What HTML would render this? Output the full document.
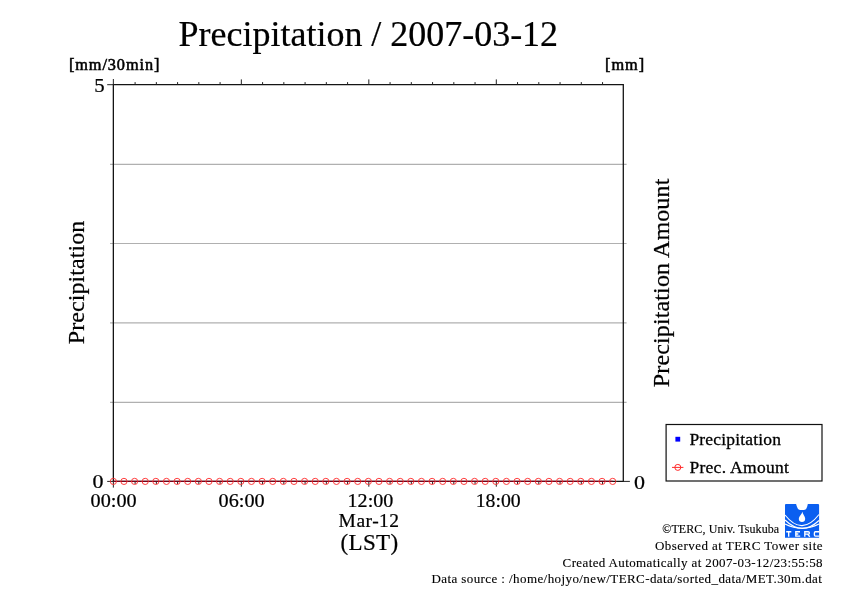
<!DOCTYPE html>
<html><head><meta charset="utf-8">
<style>
html,body{margin:0;padding:0;background:#fff;width:842px;height:595px;overflow:hidden}
svg{display:block;will-change:transform}
text{font-family:"Liberation Serif",serif;fill:#000}
</style></head>
<body>
<svg width="842" height="595" viewBox="0 0 842 595">
<rect x="0" y="0" width="842" height="595" fill="#fff"/>
<text x="178.6" y="45.7" font-size="36" textLength="379.5" lengthAdjust="spacing" stroke="#000" stroke-width="0.22">Precipitation / 2007-03-12</text>
<text x="68.9" y="70.3" font-size="16.3" textLength="90.5" lengthAdjust="spacing" stroke="#000" stroke-width="0.55">[mm/30min]</text>
<text x="605.0" y="70.2" font-size="16.3" textLength="39.2" lengthAdjust="spacing" stroke="#000" stroke-width="0.55">[mm]</text>
<g stroke="#b0b0b0" stroke-width="1.15"><line x1="110.05" y1="164.30" x2="626.5999999999999" y2="164.30"/><line x1="110.05" y1="243.50" x2="626.5999999999999" y2="243.50"/><line x1="110.05" y1="322.80" x2="626.5999999999999" y2="322.80"/><line x1="110.05" y1="402.30" x2="626.5999999999999" y2="402.30"/></g>
<path d="M113.35 84.7 H623.3 V481.4 H113.35 Z" fill="none" stroke="#141414" stroke-width="1.3"/>
<g stroke="#222" stroke-width="1"><line x1="107.2" y1="84.7" x2="113.35" y2="84.7"/><line x1="107.2" y1="481.4" x2="113.35" y2="481.4"/><line x1="623.3" y1="481.4" x2="629.9" y2="481.4"/><line x1="113.35" y1="79" x2="113.35" y2="84.7"/><line x1="113.35" y1="481.4" x2="113.35" y2="487.6"/><line x1="135.10" y1="84.7" x2="135.10" y2="82.10000000000001"/><line x1="135.10" y1="481.4" x2="135.10" y2="484.0"/><line x1="156.35" y1="84.7" x2="156.35" y2="82.10000000000001"/><line x1="156.35" y1="481.4" x2="156.35" y2="484.0"/><line x1="177.59" y1="84.7" x2="177.59" y2="82.10000000000001"/><line x1="177.59" y1="481.4" x2="177.59" y2="484.0"/><line x1="198.84" y1="84.7" x2="198.84" y2="82.10000000000001"/><line x1="198.84" y1="481.4" x2="198.84" y2="484.0"/><line x1="220.09" y1="84.7" x2="220.09" y2="82.10000000000001"/><line x1="220.09" y1="481.4" x2="220.09" y2="484.0"/><line x1="241.34" y1="84.7" x2="241.34" y2="79.4"/><line x1="241.34" y1="481.4" x2="241.34" y2="486.7"/><line x1="262.59" y1="84.7" x2="262.59" y2="82.10000000000001"/><line x1="262.59" y1="481.4" x2="262.59" y2="484.0"/><line x1="283.83" y1="84.7" x2="283.83" y2="82.10000000000001"/><line x1="283.83" y1="481.4" x2="283.83" y2="484.0"/><line x1="305.08" y1="84.7" x2="305.08" y2="82.10000000000001"/><line x1="305.08" y1="481.4" x2="305.08" y2="484.0"/><line x1="326.33" y1="84.7" x2="326.33" y2="82.10000000000001"/><line x1="326.33" y1="481.4" x2="326.33" y2="484.0"/><line x1="347.58" y1="84.7" x2="347.58" y2="82.10000000000001"/><line x1="347.58" y1="481.4" x2="347.58" y2="484.0"/><line x1="368.82" y1="84.7" x2="368.82" y2="79.4"/><line x1="368.82" y1="481.4" x2="368.82" y2="486.7"/><line x1="390.07" y1="84.7" x2="390.07" y2="82.10000000000001"/><line x1="390.07" y1="481.4" x2="390.07" y2="484.0"/><line x1="411.32" y1="84.7" x2="411.32" y2="82.10000000000001"/><line x1="411.32" y1="481.4" x2="411.32" y2="484.0"/><line x1="432.57" y1="84.7" x2="432.57" y2="82.10000000000001"/><line x1="432.57" y1="481.4" x2="432.57" y2="484.0"/><line x1="453.82" y1="84.7" x2="453.82" y2="82.10000000000001"/><line x1="453.82" y1="481.4" x2="453.82" y2="484.0"/><line x1="475.06" y1="84.7" x2="475.06" y2="82.10000000000001"/><line x1="475.06" y1="481.4" x2="475.06" y2="484.0"/><line x1="496.31" y1="84.7" x2="496.31" y2="79.4"/><line x1="496.31" y1="481.4" x2="496.31" y2="486.7"/><line x1="517.56" y1="84.7" x2="517.56" y2="82.10000000000001"/><line x1="517.56" y1="481.4" x2="517.56" y2="484.0"/><line x1="538.81" y1="84.7" x2="538.81" y2="82.10000000000001"/><line x1="538.81" y1="481.4" x2="538.81" y2="484.0"/><line x1="560.06" y1="84.7" x2="560.06" y2="82.10000000000001"/><line x1="560.06" y1="481.4" x2="560.06" y2="484.0"/><line x1="581.30" y1="84.7" x2="581.30" y2="82.10000000000001"/><line x1="581.30" y1="481.4" x2="581.30" y2="484.0"/><line x1="602.55" y1="84.7" x2="602.55" y2="82.10000000000001"/><line x1="602.55" y1="481.4" x2="602.55" y2="484.0"/></g>
<line x1="113.35" y1="481.4" x2="612.68" y2="481.4" stroke="#780018" stroke-width="1.3"/>
<g stroke="#ff3535" stroke-width="0.95" fill="none"><circle cx="113.35" cy="481.4" r="3.1"/><circle cx="123.97" cy="481.4" r="3.1"/><circle cx="134.60" cy="481.4" r="3.1"/><circle cx="145.22" cy="481.4" r="3.1"/><circle cx="155.85" cy="481.4" r="3.1"/><circle cx="166.47" cy="481.4" r="3.1"/><circle cx="177.09" cy="481.4" r="3.1"/><circle cx="187.72" cy="481.4" r="3.1"/><circle cx="198.34" cy="481.4" r="3.1"/><circle cx="208.97" cy="481.4" r="3.1"/><circle cx="219.59" cy="481.4" r="3.1"/><circle cx="230.21" cy="481.4" r="3.1"/><circle cx="240.84" cy="481.4" r="3.1"/><circle cx="251.46" cy="481.4" r="3.1"/><circle cx="262.09" cy="481.4" r="3.1"/><circle cx="272.71" cy="481.4" r="3.1"/><circle cx="283.33" cy="481.4" r="3.1"/><circle cx="293.96" cy="481.4" r="3.1"/><circle cx="304.58" cy="481.4" r="3.1"/><circle cx="315.21" cy="481.4" r="3.1"/><circle cx="325.83" cy="481.4" r="3.1"/><circle cx="336.45" cy="481.4" r="3.1"/><circle cx="347.08" cy="481.4" r="3.1"/><circle cx="357.70" cy="481.4" r="3.1"/><circle cx="368.32" cy="481.4" r="3.1"/><circle cx="378.95" cy="481.4" r="3.1"/><circle cx="389.57" cy="481.4" r="3.1"/><circle cx="400.20" cy="481.4" r="3.1"/><circle cx="410.82" cy="481.4" r="3.1"/><circle cx="421.44" cy="481.4" r="3.1"/><circle cx="432.07" cy="481.4" r="3.1"/><circle cx="442.69" cy="481.4" r="3.1"/><circle cx="453.32" cy="481.4" r="3.1"/><circle cx="463.94" cy="481.4" r="3.1"/><circle cx="474.56" cy="481.4" r="3.1"/><circle cx="485.19" cy="481.4" r="3.1"/><circle cx="495.81" cy="481.4" r="3.1"/><circle cx="506.44" cy="481.4" r="3.1"/><circle cx="517.06" cy="481.4" r="3.1"/><circle cx="527.68" cy="481.4" r="3.1"/><circle cx="538.31" cy="481.4" r="3.1"/><circle cx="548.93" cy="481.4" r="3.1"/><circle cx="559.56" cy="481.4" r="3.1"/><circle cx="570.18" cy="481.4" r="3.1"/><circle cx="580.80" cy="481.4" r="3.1"/><circle cx="591.43" cy="481.4" r="3.1"/><circle cx="602.05" cy="481.4" r="3.1"/><circle cx="612.68" cy="481.4" r="3.1"/></g>
<text x="94.3" y="91.6" font-size="19.5" textLength="10.4" lengthAdjust="spacingAndGlyphs" stroke="#000" stroke-width="0.22">5</text>
<text x="92.5" y="487.8" font-size="19.3" textLength="11.0" lengthAdjust="spacingAndGlyphs" stroke="#000" stroke-width="0.22">0</text>
<text x="634.0" y="488.6" font-size="19.3" textLength="11.0" lengthAdjust="spacingAndGlyphs" stroke="#000" stroke-width="0.22">0</text>
<text x="90.6" y="506.8" font-size="19.3" textLength="46.0" lengthAdjust="spacingAndGlyphs" stroke="#000" stroke-width="0.22">00:00</text>
<text x="218.6" y="506.8" font-size="19.3" textLength="46.0" lengthAdjust="spacingAndGlyphs" stroke="#000" stroke-width="0.22">06:00</text>
<text x="347.6" y="506.8" font-size="19.3" textLength="45.7" lengthAdjust="spacingAndGlyphs" stroke="#000" stroke-width="0.22">12:00</text>
<text x="475.7" y="506.8" font-size="19.3" textLength="45.0" lengthAdjust="spacingAndGlyphs" stroke="#000" stroke-width="0.22">18:00</text>
<text x="338.6" y="526.6" font-size="19.5" textLength="60.5" lengthAdjust="spacing" stroke="#000" stroke-width="0.22">Mar-12</text>
<text x="340.6" y="550.4" font-size="23" textLength="57.5" lengthAdjust="spacing" stroke="#000" stroke-width="0.22">(LST)</text>
<text transform="translate(83.8,344.2) rotate(-90)" font-size="24" textLength="123.5" lengthAdjust="spacing" stroke="#000" stroke-width="0.22">Precipitation</text>
<text transform="translate(669.4,387.2) rotate(-90)" font-size="24" textLength="208.5" lengthAdjust="spacing" stroke="#000" stroke-width="0.22">Precipitation Amount</text>
<rect x="666.1" y="424.5" width="155.9" height="56.5" fill="none" stroke="#111" stroke-width="1.2"/>
<rect x="675.4" y="436.8" width="4.8" height="4.8" fill="#0000ff"/>
<text x="689.4" y="445.2" font-size="17.5" textLength="91.5" lengthAdjust="spacing" stroke="#000" stroke-width="0.3">Precipitation</text>
<line x1="672" y1="467.4" x2="683.4" y2="467.4" stroke="#ff2a2a" stroke-width="1"/>
<circle cx="677.8" cy="467.4" r="3" fill="none" stroke="#ff2a2a" stroke-width="1"/>
<text x="689.4" y="473.1" font-size="17.5" textLength="99.5" lengthAdjust="spacing" stroke="#000" stroke-width="0.3">Prec. Amount</text>
<text x="662.2" y="533" font-size="12" textLength="117" lengthAdjust="spacing" stroke="#000" stroke-width="0.12">©TERC, Univ. Tsukuba</text>
<text x="655.0" y="550" font-size="13" textLength="167.5" lengthAdjust="spacing" stroke="#000" stroke-width="0.12">Observed at TERC Tower site</text>
<text x="562.6" y="566.5" font-size="13" textLength="260" lengthAdjust="spacing" stroke="#000" stroke-width="0.12">Created Automatically at 2007-03-12/23:55:58</text>
<text x="431.4" y="583.4" font-size="13" textLength="390.5" lengthAdjust="spacing" stroke="#000" stroke-width="0.12">Data source : /home/hojyo/new/TERC-data/sorted_data/MET.30m.dat</text>
<g id="logo">
<path d="M786 504 H796.1 C797.2 508.5 798.5 509.9 800 509.9 H804 C805.8 509.9 807 508.5 807.8 504 H818 Q819.1 504 819.1 505 V537.8 H785 V505 Q785 504 786 504 Z" fill="#0b5ff0"/>
<path d="M802.4 511.8 C802.6 514 805.2 516.5 805.2 518.8 C805.2 521 803.8 522 802 522 C800.2 522 798.8 521 798.8 518.8 C798.8 516.5 802 514 802.4 511.8 Z" fill="#fff"/>
<g fill="none" stroke="#fff" stroke-width="1.1">
<path d="M785 515 Q802 536.5 819 514.5"/>
<path d="M785 520 Q802 536.5 819 520.5"/>
<path d="M785 524 Q802 532.5 819 524"/>
</g>
<path fill="none" stroke="#fff" stroke-width="1.35" d="M786.2 531.7 H791.3 M788.7 531.7 V536.8 M800 531.7 H795.8 V536.1 H800.2 M795.8 534 H798.3 M804.8 536.8 V531.7 H808.2 Q809.4 531.7 809.4 532.9 Q809.4 534.1 808.1 534.1 H804.8 M807.6 534.1 L809.8 536.8 M819.1 531.7 H815.4 Q814.4 531.7 814.4 532.9 V535 Q814.4 536.1 815.4 536.1 H819.1"/>
</g>
</svg>
</body></html>
